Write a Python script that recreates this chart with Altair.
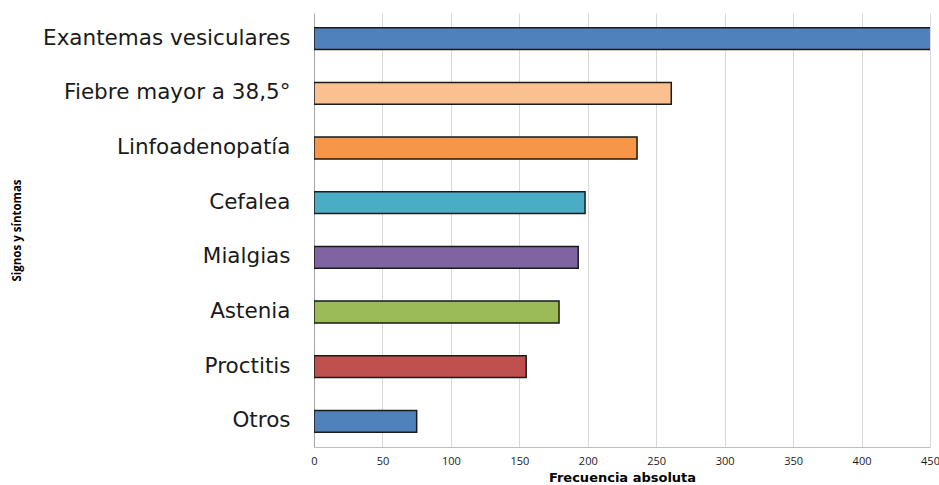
import altair as alt
import pandas as pd

categories = ["Exantemas vesiculares", "Fiebre mayor a 38,5°", "Linfoadenopatía",
              "Cefalea", "Mialgias", "Astenia", "Proctitis", "Otros"]
values = [460, 261, 236, 198, 193, 179, 155, 75]
colors = ["#4F81BD", "#FAC090", "#F79646", "#4BACC6", "#8064A2", "#9BBB59", "#C0504D", "#4F81BD"]

df = pd.DataFrame({"cat": categories, "val": values, "color": colors})

chart = alt.Chart(df).mark_bar(stroke="#1a1a1a", strokeWidth=1.5, clip=True).encode(
    y=alt.Y("cat:N", sort=categories, title="Signos y síntomas",
            scale=alt.Scale(paddingInner=0.6, paddingOuter=0.27),
            axis=alt.Axis(labelFont="DejaVu Sans", labelFontSize=21.5, labelColor="#1a1a1a",
                          labelPadding=24, labelLimit=400, ticks=False, domainColor="#a6a6a6",
                          titleFont="Open Sans", titleFontSize=11.5, titleFontWeight="bold",
                          titleColor="#000000", titleX=-292, titleY=217)),
    x=alt.X("val:Q", title="Frecuencia absoluta",
            scale=alt.Scale(domain=[0, 450], nice=False),
            axis=alt.Axis(values=list(range(0, 451, 50)), labelFont="Open Sans", labelFontSize=11,
                          labelColor="#1a1a1a", labelPadding=8, ticks=False,
                          domainColor="#bfbfbf", gridColor="#d9d9d9", grid=True,
                          titleFont="DejaVu Sans", titleFontSize=13, titleFontWeight="bold",
                          titleColor="#000000", titlePadding=5, labelFlush=False)),
    color=alt.Color("color:N", scale=None),
).properties(
    width=616, height=434,
    autosize=alt.AutoSizeParams(type="none"),
    padding={"left": 314, "top": 13, "right": 9, "bottom": 38},
).configure_view(stroke=None).configure_axisY(grid=False)

chart.save("out.html", embed_options={"renderer": "svg", "actions": False})
